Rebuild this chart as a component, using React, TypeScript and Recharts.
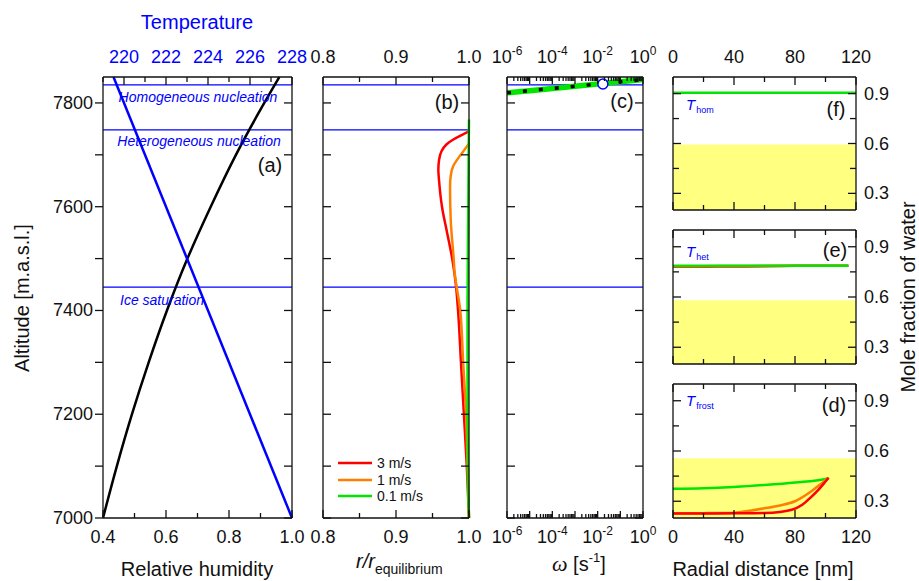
import React from 'react';
import { ComposedChart, Line, XAxis, YAxis, ReferenceLine, ReferenceArea } from 'recharts';

const W = 919;
const H = 581;
const AX = 20; // every axis gets the same fixed size, margins do the rest
const FONT = '"Liberation Sans", Arial, Helvetica, sans-serif';
const BLUE = '#0000ff';
const RED = '#ff0000';
const ORANGE = '#ff8000';
const GREEN = '#00e600';
const YELLOW = '#ffff80';

// shared altitude axis, panels (a)-(c)
const ALT_DOMAIN = [7000, 7850];
const ALT_TICKS = [7000, 7100, 7200, 7300, 7400, 7500, 7600, 7700, 7800];
const ALT_MAJOR = [7000, 7200, 7400, 7600, 7800];
const HOM_ALT = 7835;
const HET_ALT = 7748;
const ICE_ALT = 7445;

// (a) relative humidity + temperature
const RH_TICKS = [0.4, 0.5, 0.6, 0.7, 0.8, 0.9, 1.0];
const RH_MAJOR = [0.4, 0.6, 0.8, 1.0];
const T_TICKS = [219, 220, 221, 222, 223, 224, 225, 226, 227, 228];
const T_MAJOR = [220, 222, 224, 226, 228];
const RH_ALT = [7000, 7100, 7200, 7300, 7400, 7500, 7600, 7700, 7800, 7850];
const RH = [0.4, 0.444, 0.492, 0.545, 0.603, 0.668, 0.742, 0.822, 0.912, 0.96];
const TEMP_ALT = [7000, 7850];
const TEMP = [228.0, 219.5];

// (b) r / r_equilibrium
const RR_TICKS = [0.8, 0.85, 0.9, 0.95, 1.0];
const RR_MAJOR = [0.8, 0.9, 1.0];
const SPEEDS = ['3 m/s', '1 m/s', '0.1 m/s'];
const RED_ALT = [7000, 7100, 7200, 7300, 7400, 7450, 7500, 7550, 7600, 7650, 7671, 7690, 7706, 7720, 7729, 7738, 7745];
const RED_RR = [1.0, 0.997, 0.993, 0.989, 0.985, 0.982, 0.977, 0.97, 0.963, 0.959, 0.958, 0.959, 0.962, 0.969, 0.978, 0.99, 1.0];
const ORANGE_ALT = [7000, 7100, 7200, 7300, 7400, 7478, 7500, 7574, 7639, 7660, 7677, 7697, 7710, 7722];
const ORANGE_RR = [1.0, 0.998, 0.996, 0.992, 0.988, 0.98, 0.979, 0.975, 0.974, 0.975, 0.978, 0.987, 0.994, 1.0];
const GREEN_ALT = [7000, 7050, 7200, 7400, 7600, 7700, 7768];
const GREEN_RR = [1.0, 0.999, 0.998, 0.998, 0.999, 0.9995, 1.0];

// (c) omega, log axis
const DECADES = [-6, -5, -4, -3, -2, -1, 0];
const W_MAJOR = DECADES.map((e) => Math.pow(10, e));
const W_TICKS = [
  ...W_MAJOR,
  ...DECADES.slice(0, -1).flatMap((e) => [2, 3, 4, 5, 6, 7, 8, 9].map((m) => m * Math.pow(10, e))),
].sort((a, b) => a - b);
const OMEGA = [1e-6, 1e-5, 1e-4, 1e-3, 1e-2, 1e-1, 1];
const OMEGA_ALT = [7819.5, 7823.7, 7828, 7832.2, 7836.4, 7840.7, 7845];
const MARK_OMEGA = [0.017];
const MARK_ALT = [7836.5];

// (d)-(f) mole fraction vs radial distance
const R_TICKS = [0, 20, 40, 60, 80, 100, 120];
const R_MAJOR = [0, 40, 80, 120];
const M_TICKS = [0.3, 0.45, 0.6, 0.75, 0.9];
const M_MAJOR = [0.3, 0.6, 0.9];

const F_X = [0, 120];
const F_GREEN = [0.905, 0.905];
const F_YELLOW = 0.594;

const E_X = [0, 20, 40, 60, 80, 100, 115];
const E_RED = [0.78, 0.781, 0.782, 0.784, 0.786, 0.787, 0.787];
const E_ORANGE = [0.783, 0.784, 0.785, 0.786, 0.787, 0.787, 0.787];
const E_GREEN = [0.787, 0.787, 0.787, 0.787, 0.787, 0.787, 0.787];
const E_YELLOW = 0.58;

const D_GREEN_X = [0, 20, 40, 60, 80, 100, 102];
const D_GREEN = [0.374, 0.377, 0.385, 0.397, 0.412, 0.433, 0.44];
const D_ORANGE_X = [0, 20, 40, 50, 60, 70, 80, 90, 95, 100, 102];
const D_ORANGE = [0.228, 0.229, 0.232, 0.243, 0.258, 0.275, 0.3, 0.355, 0.39, 0.425, 0.44];
const D_RED_X = [0, 20, 40, 60, 70, 75, 80, 85, 90, 95, 100, 102];
const D_RED = [0.227, 0.227, 0.228, 0.23, 0.236, 0.243, 0.256, 0.28, 0.32, 0.365, 0.418, 0.44];
const D_YELLOW = 0.556;

const zip = (key: string, ks: number[], vs: number[]) => ks.map((k, i) => ({ [key]: k, v: vs[i] }));

function marginFor(l: number, t: number, r: number, b: number) {
  return { left: l - AX, top: t - AX, right: W - r - AX, bottom: H - b - AX };
}

type Side = 'top' | 'bottom' | 'left' | 'right';
interface TickOpts {
  label?: (v: number) => React.ReactNode;
  color?: string;
  out?: boolean;
  majorLen?: number;
  minorLen?: number;
}

function makeTick(side: Side, major: number[], opts: TickOpts = {}) {
  return (props: any) => {
    const { x, y, payload } = props;
    const v = payload.value as number;
    const isMajor = major.some((m) => Math.abs(m - v) <= 1e-6 * Math.abs(m) || m === v);
    const len = isMajor ? opts.majorLen ?? 8 : opts.minorLen ?? 5;
    const dir = opts.out ? -1 : 1;
    let x2 = x;
    let y2 = y;
    if (side === 'bottom') y2 = y - dir * len;
    if (side === 'top') y2 = y + dir * len;
    if (side === 'left') x2 = x + dir * len;
    if (side === 'right') x2 = x - dir * len;
    const text = isMajor && opts.label ? opts.label(v) : null;
    let tx = x;
    let ty = y;
    let anchor = 'middle';
    if (side === 'bottom') ty = y + 25;
    if (side === 'top') ty = y - 14;
    if (side === 'left') { tx = x - 10; ty = y + 6; anchor = 'end'; }
    if (side === 'right') { tx = x + 8; ty = y + 6; anchor = 'start'; }
    return (
      <g>
        <line x1={x} y1={y} x2={x2} y2={y2} stroke="#111" strokeWidth={1.3} />
        {text != null && (
          <text x={tx} y={ty} textAnchor={anchor} fontSize={18} fill={opts.color ?? '#111'} fontFamily={FONT}>
            {text}
          </text>
        )}
      </g>
    );
  };
}

const AXLINE = { stroke: '#111', strokeWidth: 1.3 };
const axisCommon = { tickSize: 0, tickMargin: 0, interval: 0 as const, axisLine: AXLINE };

const fmt1 = (v: number) => v.toFixed(1);
const fmt0 = (v: number) => String(v);
const fmtPow = (v: number) => {
  const e = Math.round(Math.log10(v));
  if (e % 2 !== 0) return null;
  return (
    <>
      10<tspan dy={-8} fontSize={12}>{e}</tspan>
    </>
  );
};

const Abs = ({ children }: { children: React.ReactNode }) => (
  <div style={{ position: 'absolute', left: 0, top: 0 }}>{children}</div>
);

function levelLines() {
  return [HOM_ALT, HET_ALT, ICE_ALT].map((a) => (
    <ReferenceLine key={a} xAxisId="b" yAxisId="l" y={a} stroke={BLUE} strokeWidth={1.2} />
  ));
}

function PanelA() {
  return (
    <ComposedChart layout="vertical" width={W} height={H} margin={marginFor(103, 77, 292, 518)}>
      <XAxis xAxisId="b" orientation="bottom" type="number" domain={[0.4, 1]} ticks={RH_TICKS} height={AX}
        {...axisCommon} tick={makeTick('bottom', RH_MAJOR, { label: fmt1 })} />
      <XAxis xAxisId="t" orientation="top" type="number" domain={[219, 228]} ticks={T_TICKS} height={AX}
        {...axisCommon} tick={makeTick('top', T_MAJOR, { label: fmt0, color: BLUE })} />
      <YAxis yAxisId="l" orientation="left" type="number" dataKey="alt" domain={ALT_DOMAIN} ticks={ALT_TICKS}
        width={AX} reversed {...axisCommon}
        tick={makeTick('left', ALT_MAJOR, { label: fmt0, out: true, minorLen: 8 })} />
      <YAxis yAxisId="r" orientation="right" type="number" dataKey="alt" domain={ALT_DOMAIN} ticks={ALT_TICKS}
        width={AX} reversed allowDataOverflow {...axisCommon} tick={makeTick('right', ALT_MAJOR, { minorLen: 8 })} />
      {levelLines()}
      <Line xAxisId="b" yAxisId="l" data={zip('alt', RH_ALT, RH)} dataKey="v" type="monotone" stroke="#000"
        strokeWidth={2.5} dot={false} isAnimationActive={false} />
      <Line xAxisId="t" yAxisId="l" data={zip('alt', TEMP_ALT, TEMP)} dataKey="v" type="linear" stroke={BLUE}
        strokeWidth={2.5} dot={false} isAnimationActive={false} />
    </ComposedChart>
  );
}

function PanelB() {
  const series = [
    { alt: RED_ALT, v: RED_RR, c: RED },
    { alt: ORANGE_ALT, v: ORANGE_RR, c: ORANGE },
    { alt: GREEN_ALT, v: GREEN_RR, c: GREEN },
  ];
  return (
    <ComposedChart layout="vertical" width={W} height={H} margin={marginFor(323, 77, 469, 518)}>
      <XAxis xAxisId="b" orientation="bottom" type="number" domain={[0.8, 1]} ticks={RR_TICKS} height={AX}
        {...axisCommon} tick={makeTick('bottom', RR_MAJOR, { label: fmt1 })} />
      <XAxis xAxisId="t" orientation="top" type="number" domain={[0.8, 1]} ticks={RR_TICKS} height={AX}
        allowDataOverflow {...axisCommon} tick={makeTick('top', RR_MAJOR, { label: fmt1 })} />
      <YAxis yAxisId="l" orientation="left" type="number" dataKey="alt" domain={ALT_DOMAIN} ticks={ALT_TICKS}
        width={AX} reversed {...axisCommon} tick={makeTick('left', ALT_MAJOR, { minorLen: 8 })} />
      <YAxis yAxisId="r" orientation="right" type="number" dataKey="alt" domain={ALT_DOMAIN} ticks={ALT_TICKS}
        width={AX} reversed allowDataOverflow {...axisCommon} tick={makeTick('right', ALT_MAJOR, { minorLen: 8 })} />
      {levelLines()}
      {series.map((s) => (
        <Line key={s.c} xAxisId="b" yAxisId="l" data={zip('alt', s.alt, s.v)} dataKey="v" type="monotone"
          stroke={s.c} strokeWidth={2.5} dot={false} isAnimationActive={false} />
      ))}
    </ComposedChart>
  );
}

function PanelC() {
  return (
    <ComposedChart layout="vertical" width={W} height={H} margin={marginFor(507, 77, 643, 518)}>
      <XAxis xAxisId="b" orientation="bottom" type="number" scale="log" domain={[1e-6, 1]} ticks={W_TICKS}
        height={AX} {...axisCommon} tick={makeTick('bottom', W_MAJOR, { label: fmtPow, majorLen: 7, minorLen: 4 })} />
      <XAxis xAxisId="t" orientation="top" type="number" scale="log" domain={[1e-6, 1]} ticks={W_TICKS}
        height={AX} allowDataOverflow {...axisCommon}
        tick={makeTick('top', W_MAJOR, { label: fmtPow, majorLen: 7, minorLen: 4 })} />
      <YAxis yAxisId="l" orientation="left" type="number" dataKey="alt" domain={ALT_DOMAIN} ticks={ALT_TICKS}
        width={AX} reversed {...axisCommon} tick={makeTick('left', ALT_MAJOR, { minorLen: 8 })} />
      <YAxis yAxisId="r" orientation="right" type="number" dataKey="alt" domain={ALT_DOMAIN} ticks={ALT_TICKS}
        width={AX} reversed allowDataOverflow {...axisCommon} tick={makeTick('right', ALT_MAJOR, { minorLen: 8 })} />
      {levelLines()}
      <Line xAxisId="b" yAxisId="l" data={zip('alt', OMEGA_ALT, OMEGA)} dataKey="v" type="linear" stroke={GREEN}
        strokeWidth={5.5} dot={false} isAnimationActive={false} />
      <Line xAxisId="b" yAxisId="l" data={zip('alt', OMEGA_ALT, OMEGA)} dataKey="v" type="linear" stroke="#000"
        strokeWidth={3.5} strokeDasharray="4 12" dot={false} isAnimationActive={false} />
      <Line xAxisId="b" yAxisId="l" data={zip('alt', MARK_ALT, MARK_OMEGA)} dataKey="v" stroke="none"
        dot={{ r: 5, fill: '#fff', stroke: BLUE, strokeWidth: 1.5 }} activeDot={false} isAnimationActive={false} />
    </ComposedChart>
  );
}

interface Series { x: number[]; v: number[]; c: string }

function MolePanel({ top, bottom, yellowTop, series, topLabels, bottomLabels }:
  { top: number; bottom: number; yellowTop: number; series: Series[]; topLabels?: boolean; bottomLabels?: boolean }) {
  return (
    <ComposedChart width={W} height={H} margin={marginFor(673, top, 856, bottom)}>
      <XAxis xAxisId="b" orientation="bottom" type="number" dataKey="x" domain={[0, 120]} ticks={R_TICKS}
        height={AX} {...axisCommon} tick={makeTick('bottom', R_MAJOR, { label: bottomLabels ? fmt0 : undefined })} />
      <XAxis xAxisId="t" orientation="top" type="number" dataKey="x" domain={[0, 120]} ticks={R_TICKS}
        height={AX} allowDataOverflow {...axisCommon}
        tick={makeTick('top', R_MAJOR, { label: topLabels ? fmt0 : undefined })} />
      <YAxis yAxisId="l" orientation="left" type="number" domain={[0.2, 1]} ticks={M_TICKS} width={AX}
        {...axisCommon} tick={makeTick('left', M_MAJOR, { minorLen: 6 })} />
      <YAxis yAxisId="r" orientation="right" type="number" domain={[0.2, 1]} ticks={M_TICKS} width={AX}
        allowDataOverflow {...axisCommon} tick={makeTick('right', M_MAJOR, { label: fmt1, minorLen: 6 })} />
      <ReferenceArea xAxisId="b" yAxisId="l" x1={0} x2={120} y1={0.2} y2={yellowTop} fill={YELLOW}
        fillOpacity={1} stroke="none" />
      {series.map((s, i) => (
        <Line key={i} xAxisId="b" yAxisId="l" data={zip('x', s.x, s.v)} dataKey="v" type="monotone"
          stroke={s.c} strokeWidth={2.5} dot={false} isAnimationActive={false} />
      ))}
    </ComposedChart>
  );
}

function Overlay() {
  const t = { fontFamily: FONT, fill: '#111' };
  const legendY = [463, 480, 496];
  const legendC = [RED, ORANGE, GREEN];
  const sub = (T: string, s: string, x: number, y: number) => (
    <text x={x} y={y} fill={BLUE} fontFamily={FONT}>
      <tspan fontSize={15} fontStyle="italic">{T}</tspan>
      <tspan fontSize={9} dy={3} dx={1}>{s}</tspan>
    </text>
  );
  return (
    <svg width={W} height={H} style={{ position: 'absolute', left: 0, top: 0, pointerEvents: 'none' }}>
      <text x={197} y={29} textAnchor="middle" fontSize={20} fontFamily={FONT} fill={BLUE}>Temperature</text>
      <text x={197} y={576} textAnchor="middle" fontSize={20} {...t}>Relative humidity</text>
      <text transform="translate(29,298) rotate(-90)" textAnchor="middle" fontSize={20} {...t}>Altitude [m.a.s.l.]</text>
      <text x={356} y={568} fontSize={20} {...t}>
        <tspan fontStyle="italic">r/r</tspan>
        <tspan fontSize={14} dy={6}>equilibrium</tspan>
      </text>
      <text x={552} y={571} fontSize={20} {...t}>
        <tspan fontFamily='"Liberation Serif", "Times New Roman", serif' fontStyle="italic" fontSize={22}>ω</tspan>
        <tspan> [s</tspan>
        <tspan fontSize={13} dy={-9}>-1</tspan>
        <tspan dy={9}>]</tspan>
      </text>
      <text x={763} y={576} textAnchor="middle" fontSize={20} {...t}>Radial distance [nm]</text>
      <text transform="translate(915,297) rotate(-90)" textAnchor="middle" fontSize={20} {...t}>Mole fraction of water</text>

      <g fontFamily={FONT} fontStyle="italic" fontSize={14} fill={BLUE}>
        <text x={198} y={102} textAnchor="middle">Homogeneous nucleation</text>
        <text x={199} y={146} textAnchor="middle">Heterogeneous nucleation</text>
        <text x={120} y={305}>Ice saturation</text>
      </g>

      <g fontSize={20} textAnchor="middle" {...t}>
        <text x={270} y={172}>(a)</text>
        <text x={447} y={109}>(b)</text>
        <text x={622} y={108}>(c)</text>
        <text x={836} y={116}>(f)</text>
        <text x={835} y={257}>(e)</text>
        <text x={834} y={412}>(d)</text>
      </g>

      {sub('T', 'hom', 686, 110)}
      {sub('T', 'het', 686, 257)}
      {sub('T', 'frost', 686, 406)}

      {SPEEDS.map((s, i) => (
        <g key={s}>
          <line x1={338} x2={372} y1={legendY[i]} y2={legendY[i]} stroke={legendC[i]} strokeWidth={2.5} />
          <text x={377} y={legendY[i] + 5} fontSize={14} {...t}>{s}</text>
        </g>
      ))}
    </svg>
  );
}

export default function App() {
  return (
    <div style={{ position: 'absolute', left: 0, top: 0, width: W, height: H, background: '#fff', fontFamily: FONT }}>
      <Abs><PanelA /></Abs>
      <Abs><PanelB /></Abs>
      <Abs><PanelC /></Abs>
      <Abs>
        <MolePanel top={77} bottom={210} yellowTop={F_YELLOW} topLabels
          series={[{ x: F_X, v: F_GREEN, c: GREEN }]} />
      </Abs>
      <Abs>
        <MolePanel top={230} bottom={364} yellowTop={E_YELLOW}
          series={[
            { x: E_X, v: E_RED, c: RED },
            { x: E_X, v: E_ORANGE, c: ORANGE },
            { x: E_X, v: E_GREEN, c: GREEN },
          ]} />
      </Abs>
      <Abs>
        <MolePanel top={384} bottom={518} yellowTop={D_YELLOW} bottomLabels
          series={[
            { x: D_GREEN_X, v: D_GREEN, c: GREEN },
            { x: D_ORANGE_X, v: D_ORANGE, c: ORANGE },
            { x: D_RED_X, v: D_RED, c: RED },
          ]} />
      </Abs>
      <Overlay />
    </div>
  );
}
